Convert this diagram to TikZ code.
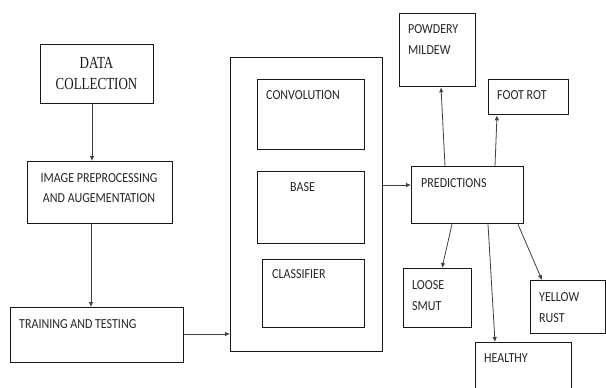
\documentclass[tikz,border=0pt]{standalone}
\usepackage{fontspec}
\setmainfont{Liberation Serif}
\newfontfamily\carlito{Carlito}
\usetikzlibrary{arrows.meta,calc}
\newcommand\stxt[1]{\scalebox{1}[1.15]{#1}}
\newcommand\rtxt[1]{\scalebox{1}[1.3]{#1}}
\begin{document}
\begin{tikzpicture}[x=1pt,y=-1pt,
  box/.style={draw=black!90, line width=1.3pt, rectangle, inner sep=0pt, anchor=north west},
  lbl/.style={anchor=base west, inner sep=0pt, font=\fontsize{12}{14}\selectfont\carlito, text=black!85},
  slbl/.style={anchor=base, inner sep=0pt, font=\fontsize{13}{15}\selectfont, text=black!90},
  arr/.style={draw=black!75, line width=0.8pt, -{Latex[length=5pt,width=4.5pt]}}]
\clip (0,0) rectangle (606,388);
\fill[white] (0,0) rectangle (606,388);
% boxes
\node[box, minimum width=113pt, minimum height=59pt] (dc) at (40,44) {};
\node[box, minimum width=145pt, minimum height=62pt] (ip) at (27,161) {};
\node[box, minimum width=173pt, minimum height=55pt] (tt) at (10,307) {};
\node[box, minimum width=152pt, minimum height=294pt] (big) at (230,57) {};
\node[box, minimum width=107pt, minimum height=70pt] (conv) at (257,79) {};
\node[box, minimum width=107pt, minimum height=72pt] (base) at (257,171) {};
\node[box, minimum width=102pt, minimum height=68pt] (clf) at (262,259) {};
\node[box, minimum width=112pt, minimum height=57pt] (pred) at (411,166) {};
\node[box, minimum width=76pt, minimum height=73pt] (pm) at (399,13) {};
\node[box, minimum width=80pt, minimum height=35pt] (fr) at (488,79) {};
\node[box, minimum width=68pt, minimum height=59pt] (ls) at (403,268) {};
\node[box, minimum width=75pt, minimum height=53pt] (yr) at (530,280) {};
\node[box, minimum width=96pt, minimum height=60pt] (he) at (475,342) {};
% labels
\node[slbl] (dct1) at (96.5,68) {\rtxt{DATA}};
\node[slbl] (dct2) at (96.5,89) {\rtxt{COLLECTION}};
\node[lbl, anchor=base] (ipt1) at (99,182) {\stxt{IMAGE PREPROCESSING}};
\node[lbl, anchor=base] (ipt2) at (99,202) {\stxt{AND AUGEMENTATION}};
\node[lbl] (ttt) at (19,328) {\stxt{TRAINING AND TESTING}};
\node[lbl] (convt) at (266,99) {\stxt{CONVOLUTION}};
\node[lbl] (baset) at (290,191) {\stxt{BASE}};
\node[lbl] (clft) at (272,278) {\stxt{CLASSIFIER}};
\node[lbl] (predt) at (421,187) {\stxt{PREDICTIONS}};
\node[lbl] (pmt1) at (408,34) {\stxt{POWDERY}};
\node[lbl] (pmt2) at (408,54) {\stxt{MILDEW}};
\node[lbl] (frt) at (497,99) {\stxt{FOOT ROT}};
\node[lbl] (lst1) at (412,289) {\stxt{LOOSE}};
\node[lbl] (lst2) at (412,310) {\stxt{SMUT}};
\node[lbl] (yrt1) at (539,301) {\stxt{YELLOW}};
\node[lbl] (yrt2) at (539,322) {\stxt{RUST}};
\node[lbl] (het) at (484,362) {\stxt{HEALTHY}};
% connectors
\draw[arr] ([xshift=52pt]dc.south west) -- ([xshift=65pt]ip.north west);
\draw[arr] ([xshift=64pt]ip.south west) -- ([xshift=81pt]tt.north west);
\draw[arr] ([yshift=-27pt]tt.north east) -- ([yshift=-277pt]big.north west);
\draw[arr] ([yshift=-128pt]big.north east) -- ([yshift=-19pt]pred.north west);
\draw[arr] ([xshift=34pt]pred.north west) -- ([xshift=42pt]pm.south west);
\draw[arr] ([xshift=84pt]pred.north west) -- ([xshift=9pt]fr.south west);
\draw[arr] ([xshift=41pt]pred.south west) -- ([xshift=39pt]ls.north west);
\draw[arr] ([xshift=77pt]pred.south west) -- ([xshift=20pt]he.north west);
\draw[arr] ([xshift=107pt]pred.south west) -- ([xshift=12pt]yr.north west);
\end{tikzpicture}
\end{document}
